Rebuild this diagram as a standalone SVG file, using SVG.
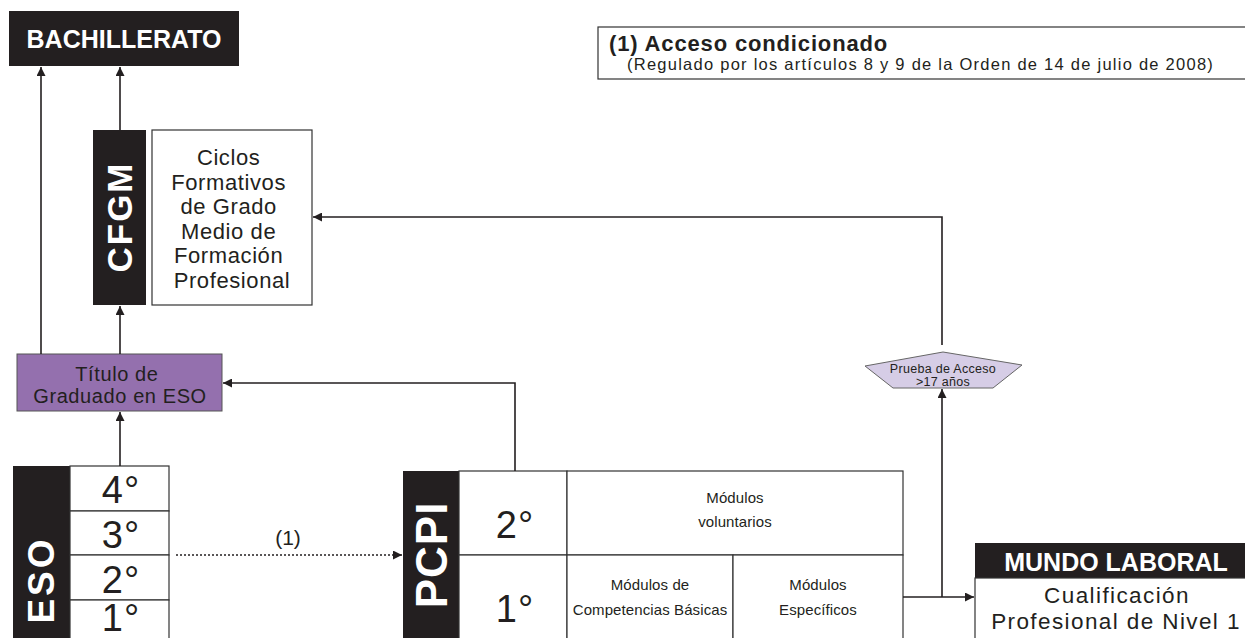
<svg xmlns="http://www.w3.org/2000/svg" width="1245" height="638" viewBox="0 0 1245 638">
<defs>
<marker id="ah" viewBox="0 0 10 10" refX="10" refY="5" markerWidth="9" markerHeight="9" markerUnits="userSpaceOnUse" orient="auto">
<path d="M0,0 L10,5 L0,10 z" fill="#231f20"/>
</marker>
<style>
text{font-family:"Liberation Sans",Arial,sans-serif;}
.blk{fill:#231f20;}
.box{fill:#fff;stroke:#333;stroke-width:1.2;}
.wb{fill:#fff;font-weight:bold;}
.tx{fill:#231f20;}
.c{text-anchor:middle;}
.ln{fill:none;stroke:#231f20;stroke-width:1.6;}
.num{font-size:38px;fill:#231f20;text-anchor:middle;letter-spacing:1px;}
.sm{font-size:15px;fill:#231f20;text-anchor:middle;letter-spacing:0.1px;}
</style>
</defs>
<rect width="1245" height="638" fill="#fff"/>

<g id="legend">
<rect x="598" y="27" width="660" height="52" class="box"/>
<text x="609" y="51" class="tx" font-size="22" font-weight="bold" letter-spacing="0.85">(1) Acceso condicionado</text>
<text x="627" y="70" class="tx" font-size="16.5" letter-spacing="1.25">(Regulado por los artículos 8 y 9 de la Orden de 14 de julio de 2008)</text>
</g>

<g id="bachillerato">
<rect x="9" y="11" width="230" height="55" class="blk"/>
<text x="124" y="48" class="wb c" font-size="25">BACHILLERATO</text>
</g>

<g id="cfgm">
<rect x="93" y="130" width="53" height="175" class="blk"/>
<text transform="translate(132,217) rotate(-90)" class="wb c" font-size="35" letter-spacing="2">CFGM</text>
<rect x="152" y="130" width="160" height="175" class="box"/>
<text class="tx c" font-size="22" letter-spacing="0.6">
<tspan x="232" y="165">Ciclos</tspan>
<tspan x="232" y="189.5">Formativos</tspan>
<tspan x="232" y="214">de Grado</tspan>
<tspan x="232" y="238.5">Medio de</tspan>
<tspan x="232" y="263">Formación</tspan>
<tspan x="232" y="287.5">Profesional</tspan>
</text>
</g>

<g id="titulo">
<rect x="17" y="354" width="205" height="57" fill="#9470ae" stroke="#555" stroke-width="1"/>
<text class="tx c" font-size="20" letter-spacing="0.6">
<tspan x="120" y="381">Título de</tspan>
<tspan x="120" y="403">Graduado en ESO</tspan>
</text>
</g>

<g id="eso">
<rect x="13" y="466" width="57" height="180" class="blk"/>
<text transform="translate(54,580) rotate(-90)" class="wb c" font-size="37" letter-spacing="3">ESO</text>
<rect x="70" y="466" width="99" height="45" class="box"/>
<rect x="70" y="511" width="99" height="44" class="box"/>
<rect x="70" y="555" width="99" height="45" class="box"/>
<rect x="70" y="600" width="99" height="45" class="box"/>
<text x="121" y="503" class="num">4°</text>
<text x="121" y="548" class="num">3°</text>
<text x="121" y="593" class="num">2°</text>
<text x="121" y="631" class="num">1°</text>
</g>

<g id="pcpi">
<rect x="403" y="471" width="56" height="175" class="blk"/>
<text transform="translate(447,555) rotate(-90)" class="wb c" font-size="44" letter-spacing="1">PCPI</text>
<rect x="459" y="471" width="108" height="84" class="box"/>
<rect x="459" y="555" width="108" height="90" class="box"/>
<rect x="567" y="471" width="336" height="84" class="box"/>
<rect x="567" y="555" width="166" height="90" class="box"/>
<rect x="733" y="555" width="170" height="90" class="box"/>
<text x="515" y="538" class="num">2°</text>
<text x="515" y="622" class="num">1°</text>
<text class="sm"><tspan x="735" y="503">Módulos</tspan><tspan x="735" y="527">voluntarios</tspan></text>
<text class="sm"><tspan x="650" y="590">Módulos de</tspan><tspan x="650" y="615">Competencias Básicas</tspan></text>
<text class="sm"><tspan x="818" y="590">Módulos</tspan><tspan x="818" y="615">Específicos</tspan></text>
</g>

<g id="prueba">
<polygon points="943,352 1022,365 993,388 893,388 865,366" fill="#d6cde6" stroke="#666" stroke-width="1"/>
<text class="tx c" font-size="12.5" letter-spacing="0.3"><tspan x="943" y="373">Prueba de Acceso</tspan><tspan x="943" y="386">&gt;17 años</tspan></text>
</g>

<g id="mundo">
<rect x="975" y="543" width="280" height="35" class="blk"/>
<text x="1116" y="571" class="wb c" font-size="25">MUNDO LABORAL</text>
<rect x="975" y="578" width="280" height="70" class="box"/>
<text class="tx c" font-size="22.5" letter-spacing="1.4"><tspan x="1117" y="603">Cualificación</tspan><tspan x="1116" y="629">Profesional de Nivel 1</tspan></text>
</g>

<g id="connectors">
<path class="ln" d="M41,354 V67" marker-end="url(#ah)"/>
<path class="ln" d="M120,130 V67" marker-end="url(#ah)"/>
<path class="ln" d="M120,354 V306" marker-end="url(#ah)"/>
<path class="ln" d="M120,466 V412" marker-end="url(#ah)"/>
<path class="ln" d="M176,555 H402" stroke-dasharray="2,2" marker-end="url(#ah)"/>
<text x="288" y="545" class="tx c" font-size="21">(1)</text>
<path class="ln" d="M515,471 V383 H223" marker-end="url(#ah)"/>
<path class="ln" d="M903,597 H974" marker-end="url(#ah)"/>
<path class="ln" d="M942,597 V389" marker-end="url(#ah)"/>
<path class="ln" d="M942,345 V217 H313" marker-end="url(#ah)"/>
</g>
</svg>
